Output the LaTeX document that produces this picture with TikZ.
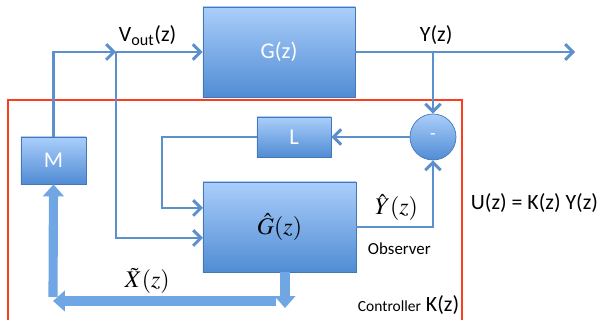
\documentclass[tikz,border=0pt]{standalone}
\usepackage{mathptmx}
\usepackage{fontspec}
\setmainfont{Carlito}
\usetikzlibrary{arrows.meta}
\definecolor{boxtop}{RGB}{170,206,250}
\definecolor{boxbot}{RGB}{80,140,212}
\definecolor{wire}{RGB}{92,144,204}
\definecolor{fatblue}{RGB}{112,166,228}
\definecolor{ctrlred}{RGB}{250,62,32}

\begin{document}
\begin{tikzpicture}[x=0.025cm,y=-0.025cm,font=\fontsize{15.5}{18}\selectfont]
  \useasboundingbox (0,0) rectangle (600,320);
  \tikzstyle{Block}=[draw=boxbot!85!black,line width=0.5pt,top color=boxtop,bottom color=boxbot,text=white,inner sep=0pt,font=\fontsize{16}{19}\selectfont]
  \tikzstyle{Wire}=[draw=wire,line width=2.1pt,-{Straight Barb[length=5.5pt,width=11pt]}]
  \tikzstyle{FatArrow}=[draw=fatblue,line width=6.5pt,-{Triangle[length=8.5pt,width=14.5pt]}]
  % controller frame
  \draw[ctrlred,line width=0.8pt] (8,330) -- (8,100) -- (462,100) -- (462,330);
  % blocks
  \node[Block,minimum width=3.8cm,minimum height=2.25cm] (G) at (279,52) {G(z)};
  \node[Block,minimum width=1.85cm,minimum height=1cm] (L) at (294,137) {L};
  \node[Block,minimum width=1.625cm,minimum height=1.175cm] (M) at (53.5,160.5) {M};
  \node[Block,minimum width=3.825cm,minimum height=2.25cm,text=black] (Ghat) at (279.5,227) {\fontsize{17}{20}\selectfont$\hat{G}(z)$};
  \node[Block,circle,minimum size=1.15cm,font=\fontsize{13}{15}\selectfont] (S) at (433,137) {-};
  \coordinate (vj) at (116,52);
  \coordinate (yj) at (433,52);
  \coordinate (yend) at (575,52);
  \coordinate (lk) at (162,137);
  \coordinate (gin1) at (203,208);
  \coordinate (gin2) at (203,238);
  \coordinate (xd1) at (285,272);
  \coordinate (xd2) at (285,308);
  \coordinate (xl1) at (276,301);
  \coordinate (xl2) at (53,301);
  \coordinate (xu) at (53,297);
  % signal lines
  \draw[Wire] (M.north) |- (vj);
  \draw[Wire] (vj) -- (G.west);
  \draw[Wire] (vj) |- (gin2);
  \draw[Wire] (G.east) -- (yend);
  \draw[Wire] (yj) -- (S.north);
  \draw[Wire] (S.west) -- (L.east);
  \draw[Wire] (L.west) -- (lk) |- (gin1);
  \draw[Wire] (Ghat.east) -| (S.south);
  % state estimate
  \draw[FatArrow] (xl1) -- (xl2);
  \draw[FatArrow] (xd1) -- (xd2);
  \draw[FatArrow] (xu) -- (M.south);
  % labels
  \node[anchor=base west] (vlab) at (114,42) {V\textsubscript{out}(z)};
  \node[anchor=base west] (ylab) at (415,42) {Y(z)};
  \node[anchor=base west] (yhlab) at (370,215) {\fontsize{17}{20}\selectfont$\hat{Y}(z)$};
  \node[anchor=base west] (xlab) at (120,288) {\fontsize{17}{20}\selectfont$\tilde{X}(z)$};
  \node[anchor=base west,font=\fontsize{12}{14}\selectfont] (obs) at (363,255) {Observer};
  \node[anchor=base west] (ctrl) at (353,312) {{\fontsize{11}{13}\selectfont Controller} K(z)};
  \node[anchor=base west] (ulaw) at (466,210) {U(z) = K(z) Y(z)};
\end{tikzpicture}
\end{document}
